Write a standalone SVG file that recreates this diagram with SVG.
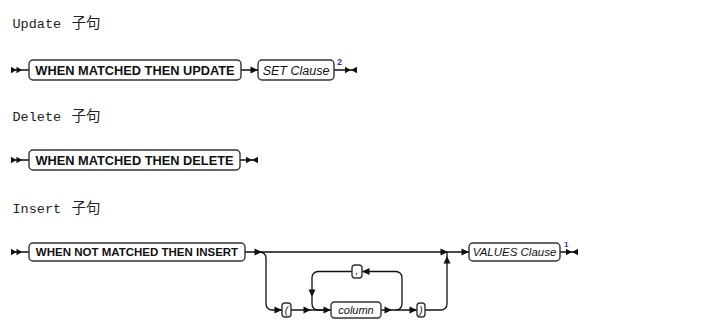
<svg xmlns="http://www.w3.org/2000/svg" xmlns:xlink="http://www.w3.org/1999/xlink" width="704" height="329" viewBox="0 0 704 329">
<style>
.title{font-family:"Liberation Mono","Noto Sans CJK SC",monospace;font-size:13.5px;fill:#222}
.cjk{font-family:"Noto Sans CJK SC",sans-serif;font-size:14.5px}
.box{fill:#fff;stroke:#333;stroke-width:1.4}
.kw{font-family:"Liberation Sans",Arial,sans-serif;font-weight:bold;fill:#111;text-anchor:middle}
.nt{font-family:"Liberation Sans",Arial,sans-serif;font-style:italic;fill:#111;text-anchor:middle}
.sup{font-family:"Liberation Sans",Arial,sans-serif;font-weight:bold;fill:#3333cc}
.ln{fill:none;stroke:#111;stroke-width:1.3}
.ah{fill:#111}
</style>
<defs>
<path id="ar" d="M0,0 L-7.5,-3.5 L-7.5,3.5 Z"/>
<g id="start"><path d="M0,-3.2 L5.5,0 L0,3.2 Z"/><path d="M5.5,-3.2 L11,0 L5.5,3.2 Z"/></g>
<g id="end"><path d="M0,-3.2 L6,0 L0,3.2 Z"/><path d="M12,-3.2 L6,0 L12,3.2 Z"/></g>
</defs>

<g id="titles">
<text class="title" x="12.5" y="28">Update <tspan class="cjk" x="71.5">子句</tspan></text>
<text class="title" x="12.5" y="121">Delete <tspan class="cjk" x="71.5">子句</tspan></text>
<text class="title" x="12.5" y="213">Insert <tspan class="cjk" x="71.5">子句</tspan></text>
</g>

<g id="connectors">
<!-- row 1 -->
<path class="ln" d="M12,70 H29 M241,70 H258 M334,70 H357"/>
<use xlink:href="#start" class="ah" x="11" y="70"/>
<use xlink:href="#ar" class="ah" x="258" y="70"/>
<use xlink:href="#end" class="ah" x="345" y="70"/>
<!-- row 2 -->
<path class="ln" d="M12,160 H29 M240,160 H258"/>
<use xlink:href="#start" class="ah" x="11" y="160"/>
<use xlink:href="#end" class="ah" x="246" y="160"/>
<!-- row 3 -->
<path class="ln" d="M12,252 H29 M245,252 H469 M560,252 H578"/>
<use xlink:href="#start" class="ah" x="11" y="252"/>
<use xlink:href="#ar" class="ah" x="262" y="252"/>
<use xlink:href="#ar" class="ah" x="448" y="252"/>
<use xlink:href="#ar" class="ah" x="469" y="252"/>
<use xlink:href="#end" class="ah" x="566" y="252"/>
<!-- optional column list branch -->
<path class="ln" d="M260,252 a6,6 0 0 1 6,6 V304 a6,6 0 0 0 6,6 H282"/>
<use xlink:href="#ar" class="ah" x="282" y="310"/>
<path class="ln" d="M291,310 H331"/>
<use xlink:href="#ar" class="ah" x="311" y="310"/>
<use xlink:href="#ar" class="ah" x="331" y="310"/>
<path class="ln" d="M381,310 H417"/>
<use xlink:href="#ar" class="ah" x="392" y="310"/>
<use xlink:href="#ar" class="ah" x="417" y="310"/>
<!-- repeat loop -->
<path class="ln" d="M396,310 a6,6 0 0 0 6,-6 V277.5 a6,6 0 0 0 -6,-6 H362"/>
<use xlink:href="#ar" class="ah" transform="translate(362,271.5) rotate(180)"/>
<path class="ln" d="M352,271.5 H318 a6,6 0 0 0 -6,6 V304 a6,6 0 0 0 6,6 H324"/>
<use xlink:href="#ar" class="ah" transform="translate(312,297) rotate(90)"/>
<!-- return to main line -->
<path class="ln" d="M425,310 H441 a6,6 0 0 0 6,-6 V252"/>
<use xlink:href="#ar" class="ah" transform="translate(447,256) rotate(-90)"/>
</g>

<g id="n-update">
<rect class="box" x="29" y="60" width="212" height="20" rx="4"/>
<text class="kw" x="135" y="74.6" font-size="12.8">WHEN MATCHED THEN UPDATE</text>
</g>
<g id="n-set">
<rect class="box" x="258" y="60" width="76" height="20" rx="4"/>
<text class="nt" x="296" y="74.6" font-size="12.5">SET Clause</text>
<text class="sup" x="337" y="65" font-size="9">2</text>
</g>

<g id="n-delete">
<rect class="box" x="29" y="150" width="211" height="20" rx="4"/>
<text class="kw" x="134.5" y="164.6" font-size="12.8">WHEN MATCHED THEN DELETE</text>
</g>

<g id="n-insert">
<rect class="box" x="29" y="243" width="216" height="18" rx="4"/>
<text class="kw" x="137" y="256.2" font-size="11.5">WHEN NOT MATCHED THEN INSERT</text>
</g>
<g id="n-lparen">
<rect class="box" x="282" y="303" width="9" height="14" rx="3"/>
<text class="nt" x="286.5" y="313.5" font-size="10" font-style="normal">(</text>
</g>
<g id="n-column">
<rect class="box" x="331" y="302" width="50" height="16" rx="3.5"/>
<text class="nt" x="356" y="314" font-size="11">column</text>
</g>
<g id="n-comma">
<rect class="box" x="352" y="265" width="10" height="13" rx="3"/>
<text class="nt" x="357" y="274" font-size="10" font-style="normal">,</text>
</g>
<g id="n-rparen">
<rect class="box" x="417" y="303" width="8" height="14" rx="3"/>
<text class="nt" x="421" y="313.5" font-size="10" font-style="normal">)</text>
</g>
<g id="n-values">
<rect class="box" x="469" y="243" width="91" height="18" rx="4"/>
<text class="nt" x="514.5" y="256.2" font-size="11.5">VALUES Clause</text>
<text class="sup" x="564" y="247" font-size="8">1</text>
</g>
</svg>
